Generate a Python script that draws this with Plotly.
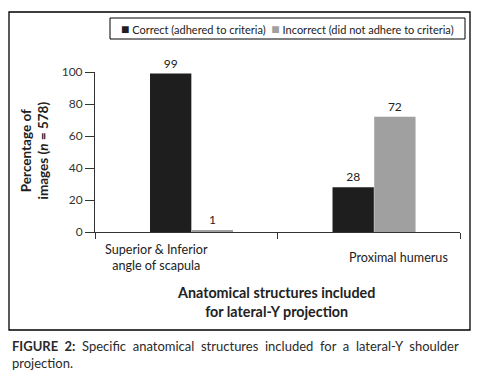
import plotly.graph_objects as go

# ---- data ----
categories = ["Superior & Inferior<br>angle of scapula", "Proximal humerus"]
series_names = ["Correct (adhered to criteria)", "Incorrect (did not adhere to criteria)"]
correct_values = [99, 28]
incorrect_values = [1, 72]
y_ticks = [0, 20, 40, 60, 80, 100]

# ---- layout geometry (pixels) ----
W, H = 477, 379
L, R, T, B = 95, 17, 72, 147
PW, PH = W - L - R, H - T - B


def xp(px):
    return (px - L) / PW


def yp(py):
    return (H - B - py) / PH


FONT = "Lato"
DARK = "#1e1e1e"
GREY = "#a0a0a0"
TXT = "#222222"

fig = go.Figure()
bar_w = 0.2265
offsets = [-0.1986, 0.0299]
colors = [DARK, GREY]
for name, vals, off, col in zip(series_names, [correct_values, incorrect_values], offsets, colors):
    fig.add_trace(go.Bar(
        x=categories, y=vals, name=name,
        marker=dict(color=col, line=dict(width=0)),
        width=bar_w, offset=off,
        text=[str(v) for v in vals], textposition="outside",
        textfont=dict(family=FONT, size=12, color=TXT),
        cliponaxis=False, showlegend=False,
    ))

fig.update_layout(
    width=W, height=H,
    margin=dict(l=L, r=R, t=T, b=B, pad=0),
    paper_bgcolor="white", plot_bgcolor="white",
    barmode="overlay",
    font=dict(family=FONT, color=TXT),
    xaxis=dict(
        type="category", range=[-0.5, 1.5],
        showline=True, linecolor="#333", linewidth=1,
        ticks="outside", ticklen=6, tickcolor="#333", tickwidth=1,
        tickson="boundaries", showticklabels=False,
        showgrid=False, zeroline=False, fixedrange=True,
    ),
    yaxis=dict(
        range=[0, 100], tickvals=y_ticks,
        showline=True, linecolor="#333", linewidth=1,
        ticks="outside", ticklen=9, tickcolor="#333", tickwidth=1,
        tickfont=dict(family=FONT, size=12, color="#333"),
        showgrid=False, zeroline=False, fixedrange=True,
    ),
)

# category labels (offset from category centres as in the reference)
label_shift = [-30, 30]
for cat, sh in zip(categories, label_shift):
    fig.add_annotation(
        x=cat, xref="x", y=yp(257), yref="paper",
        text=cat, showarrow=False, xshift=sh,
        xanchor="center", yanchor="middle",
        font=dict(family=FONT, size=12.6, color=TXT), align="center",
    )

# axis titles
fig.add_annotation(
    x=xp(34.5), y=yp(150), xref="paper", yref="paper",
    text="<b>Percentage of<br>images (<i>n</i> = 578)</b>",
    textangle=-90, showarrow=False, xanchor="center", yanchor="middle",
    font=dict(family=FONT, size=13.5, color=TXT), align="center",
)
fig.add_annotation(
    x=xp(276), y=yp(301.5), xref="paper", yref="paper",
    text="<b>Anatomical structures included<br>for lateral-Y projection</b>",
    showarrow=False, xanchor="center", yanchor="middle",
    font=dict(family=FONT, size=14.3, color=TXT), align="center",
)

# legend (box + text)
fig.add_shape(type="rect", xref="paper", yref="paper",
              x0=xp(110), x1=xp(465), y0=yp(39), y1=yp(18),
              line=dict(color="black", width=1), fillcolor="rgba(0,0,0,0)")
sw = "<span style='color:{c};font-size:14px'>■</span>"
legend_text = (f"{sw.format(c=DARK)} {series_names[0]}"
               f"&nbsp;&nbsp;{sw.format(c=GREY)} {series_names[1]}")
fig.add_annotation(
    x=xp(287.5), y=yp(28.5), xref="paper", yref="paper",
    text=legend_text, showarrow=False, xanchor="center", yanchor="middle",
    font=dict(family=FONT, size=11, color=TXT),
)

# outer frame
fig.add_shape(type="rect", xref="paper", yref="paper",
              x0=xp(9), x1=xp(470), y0=yp(330), y1=yp(12),
              line=dict(color="black", width=1.3), fillcolor="rgba(0,0,0,0)")

# caption (justified first line approximated with extra spacing)
gap = " &nbsp;"
line1 = gap.join(["Specific", "anatomical", "structures", "included", "for", "a",
                  "lateral-Y", "shoulder"])
fig.add_annotation(
    x=xp(10), y=yp(354), xref="paper", yref="paper",
    text=(f"<b>FIGURE{gap}2:</b>{gap}{line1}<br>projection."),
    showarrow=False, xanchor="left", yanchor="middle", align="left",
    font=dict(family=FONT, size=13.0, color="#2a2a2a"),
)

fig.write_html("out.html", config={"displayModeBar": False},
               post_script="document.body.style.margin='0';")
